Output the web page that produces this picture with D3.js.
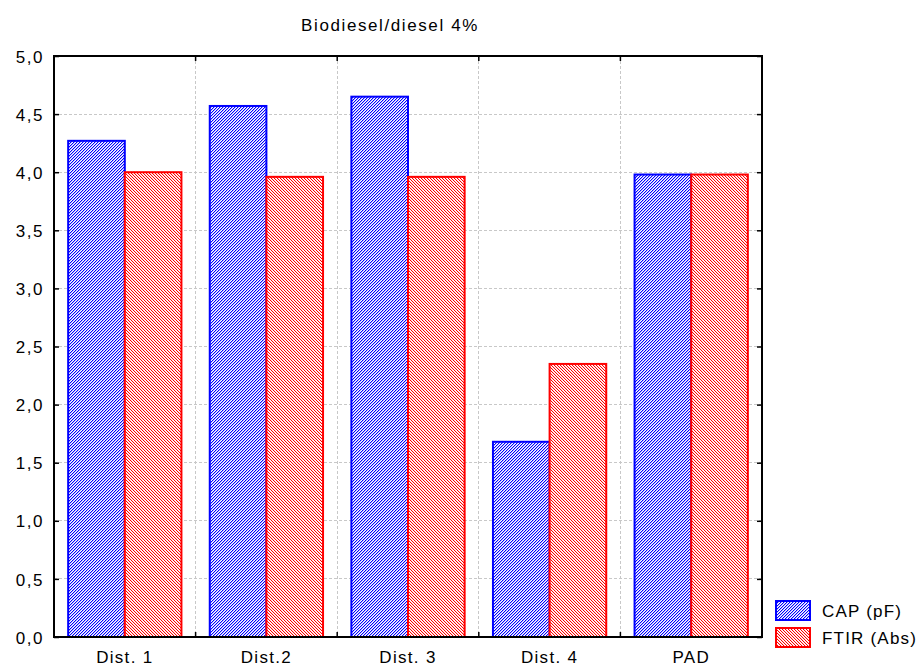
<!DOCTYPE html>
<html><head><meta charset="utf-8">
<script src="https://cdn.jsdelivr.net/npm/d3@7"></script>
<style>body{margin:0;background:#fff}svg{display:block}text{font-family:"Liberation Sans",Arial,sans-serif}</style>
</head><body><svg id="c" width="920" height="669"></svg>
<script>
const categories = ["Dist. 1","Dist.2","Dist. 3","Dist. 4","PAD"];
const seriesNames = ["CAP (pF)","FTIR (Abs)"];
const capValues = [4.27, 4.57, 4.65, 1.68, 3.98];
const ftirValues = [4.00, 3.96, 3.96, 2.35, 3.98];
const yTicks = [0,0.5,1,1.5,2,2.5,3,3.5,4,4.5,5];
const title = "Biodiesel/diesel 4%";
const colors = ["#0000ff","#ff0000"];

const svg = d3.select("#c");
const m = {l:54, r:762, t:56, b:637};
const x = d3.scaleBand().domain(categories).range([m.l,m.r]).paddingInner(0.2).paddingOuter(0.1);
const x1 = d3.scaleBand().domain(seriesNames).range([0,x.bandwidth()]);
const y = d3.scaleLinear().domain([0,5]).range([m.b,m.t]);
const fmt = d3.format(".1f");

const defs = svg.append("defs");
function hatch(id, color, dir, light){
  const n = 3;
  const p = defs.append("pattern").attr("id",id).attr("patternUnits","userSpaceOnUse").attr("width",n).attr("height",n);
  p.append("rect").attr("width",n).attr("height",n).attr("fill","#fff");
  for(let i=0;i<n;i++){
    const px = dir>0 ? n-1-i : i;
    p.append("rect").attr("x",px).attr("y",i).attr("width",1).attr("height",1).attr("fill",color).attr("shape-rendering","crispEdges");
    p.append("rect").attr("x",(px+1)%n).attr("y",i).attr("width",1).attr("height",1).attr("fill",light).attr("shape-rendering","crispEdges");
  }
}
hatch("hb",colors[0],1,"#b4b4ff");
hatch("hr",colors[1],-1,"#ffd8d8");

// grid
const g = svg.append("g");
g.selectAll(".hg").data(yTicks.slice(1,-1)).join("line")
  .attr("x1",m.l).attr("x2",m.r).attr("y1",d=>y(d)).attr("y2",d=>y(d))
  .attr("stroke","#c8c8c8").attr("stroke-dasharray","3,2").attr("shape-rendering","crispEdges");
const bounds = categories.slice(1).map(c=>x(c)-x.step()*x.paddingInner()/2);
g.selectAll(".vg").data(bounds).join("line")
  .attr("x1",d=>d).attr("x2",d=>d).attr("y1",m.t).attr("y2",m.b)
  .attr("stroke","#c8c8c8").attr("stroke-dasharray","3,2").attr("shape-rendering","crispEdges");

// bars
const series = [capValues, ftirValues];
const pats = ["url(#hb)","url(#hr)"];
series.forEach((vals,si)=>{
  svg.append("g").selectAll("rect").data(vals).join("rect")
    .attr("x",(d,i)=>x(categories[i])+x1(seriesNames[si]))
    .attr("y",d=>y(d))
    .attr("width",x1.bandwidth())
    .attr("height",d=>y(0)-y(d))
    .attr("fill",pats[si]).attr("stroke",colors[si]).attr("stroke-width",2);
});

// frame
svg.append("rect").attr("x",m.l).attr("y",m.t).attr("width",m.r-m.l).attr("height",m.b-m.t)
  .attr("fill","none").attr("stroke","#000").attr("stroke-width",2);

// axes
const yl = d3.axisLeft(y).tickValues(yTicks).tickFormat(d=>fmt(d).replace(".",",")).tickSize(-5).tickPadding(10);
const ya = svg.append("g").attr("transform",`translate(${m.l},0)`).call(yl);
ya.attr("font-size",null).attr("font-family",null);
ya.select(".domain").remove();
ya.selectAll("text").style("font-size","17px").style("letter-spacing","1.5px").attr("fill","#000").attr("dy","0.36em");
ya.selectAll("line").attr("stroke","#000").attr("stroke-width",1.5);
const yr = d3.axisRight(y).tickValues(yTicks).tickFormat("").tickSize(-5);
const yra = svg.append("g").attr("transform",`translate(${m.r},0)`).call(yr);
yra.select(".domain").remove();
yra.selectAll("line").attr("stroke","#000").attr("stroke-width",1.5);

const xb = d3.axisBottom(x).tickSize(0).tickPadding(14);
const xa = svg.append("g").attr("transform",`translate(0,${m.b})`).call(xb);
xa.attr("font-size",null).attr("font-family",null);
xa.select(".domain").remove();
xa.selectAll("text").style("font-size","17px").style("letter-spacing","1.3px").attr("fill","#000");
svg.append("g").selectAll("line").data(bounds).join("line")
  .attr("x1",d=>d).attr("x2",d=>d).attr("y1",m.b).attr("y2",m.b-5).attr("stroke","#000").attr("stroke-width",1.5);
svg.append("g").selectAll("line").data(bounds).join("line")
  .attr("x1",d=>d).attr("x2",d=>d).attr("y1",m.t).attr("y2",m.t+5).attr("stroke","#000").attr("stroke-width",1.5);

// title
svg.append("text").attr("x",390).attr("y",31).attr("text-anchor","middle")
  .style("font-size","17px").style("letter-spacing","1.6px").text(title);

// legend
const lg = svg.append("g");
seriesNames.forEach((n,i)=>{
  const yy = 601 + i*27;
  lg.append("rect").attr("x",776).attr("y",yy).attr("width",34).attr("height",19)
    .attr("fill",pats[i]).attr("stroke",colors[i]).attr("stroke-width",2);
  lg.append("text").attr("x",822).attr("y",yy+16).style("font-size","17px").style("letter-spacing","1.2px").text(n);
});
</script></body></html>
